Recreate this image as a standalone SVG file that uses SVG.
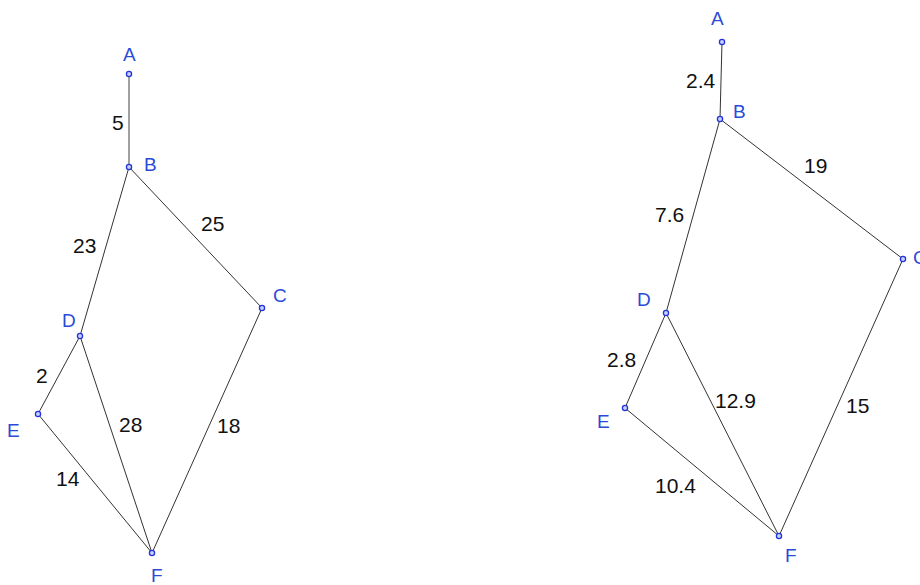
<svg xmlns="http://www.w3.org/2000/svg" width="920" height="585" viewBox="0 0 920 585">
<style>
.e{stroke:#333;stroke-width:1;fill:none}
.p{fill:#c8d0ff;stroke:#2233dd;stroke-width:1.3}
.lab{font-family:"Liberation Sans",Arial,sans-serif;font-size:19px;fill:#2a4bd7}
.num{font-family:"Liberation Sans",Arial,sans-serif;font-size:21px;fill:#111}
</style>
<rect width="920" height="585" fill="#fff"/>
<g id="connectors">
<line class="e" x1="129" y1="74" x2="129" y2="167" style="stroke:#777;stroke-width:1.4"/>
<line class="e" x1="129" y1="167" x2="80" y2="336"/>
<line class="e" x1="129" y1="167" x2="262" y2="308"/>
<line class="e" x1="80" y1="336" x2="38" y2="414"/>
<line class="e" x1="80" y1="336" x2="152" y2="553"/>
<line class="e" x1="38" y1="414" x2="152" y2="553"/>
<line class="e" x1="262" y1="308" x2="152" y2="553"/>
<line class="e" x1="722" y1="42" x2="720" y2="119"/>
<line class="e" x1="720" y1="119" x2="666" y2="313"/>
<line class="e" x1="720" y1="119" x2="903" y2="259"/>
<line class="e" x1="666" y1="313" x2="625" y2="408"/>
<line class="e" x1="666" y1="313" x2="779" y2="536"/>
<line class="e" x1="625" y1="408" x2="779" y2="536"/>
<line class="e" x1="903" y1="259" x2="779" y2="536"/>
</g>
<g id="edge-labels">
<text class="num" x="112" y="130">5</text>
<text class="num" x="73" y="253">23</text>
<text class="num" x="201" y="231">25</text>
<text class="num" x="36" y="383">2</text>
<text class="num" x="119" y="432">28</text>
<text class="num" x="217" y="433">18</text>
<text class="num" x="56" y="486">14</text>
<text class="num" x="686" y="88">2.4</text>
<text class="num" x="804" y="173">19</text>
<text class="num" x="655" y="222">7.6</text>
<text class="num" x="607" y="367">2.8</text>
<text class="num" x="715" y="408">12.9</text>
<text class="num" x="846" y="413">15</text>
<text class="num" x="655" y="493">10.4</text>
</g>
<g id="L-A"><circle class="p" cx="129" cy="74" r="2.6"/><text class="lab" x="123" y="61">A</text></g>
<g id="L-B"><circle class="p" cx="129" cy="167" r="2.6"/><text class="lab" x="144" y="171">B</text></g>
<g id="L-C"><circle class="p" cx="262" cy="308" r="2.6"/><text class="lab" x="273" y="302">C</text></g>
<g id="L-D"><circle class="p" cx="80" cy="336" r="2.6"/><text class="lab" x="62" y="327">D</text></g>
<g id="L-E"><circle class="p" cx="38" cy="414" r="2.6"/><text class="lab" x="7" y="437">E</text></g>
<g id="L-F"><circle class="p" cx="152" cy="553" r="2.6"/><text class="lab" x="151" y="582">F</text></g>
<g id="R-A"><circle class="p" cx="722" cy="42" r="2.6"/><text class="lab" x="711" y="25">A</text></g>
<g id="R-B"><circle class="p" cx="720" cy="119" r="2.6"/><text class="lab" x="733" y="118">B</text></g>
<g id="R-C"><circle class="p" cx="903" cy="259" r="2.6"/><text class="lab" x="913" y="264">C</text></g>
<g id="R-D"><circle class="p" cx="666" cy="313" r="2.6"/><text class="lab" x="637" y="306">D</text></g>
<g id="R-E"><circle class="p" cx="625" cy="408" r="2.6"/><text class="lab" x="597" y="428">E</text></g>
<g id="R-F"><circle class="p" cx="779" cy="536" r="2.6"/><text class="lab" x="785" y="562">F</text></g>
</svg>
